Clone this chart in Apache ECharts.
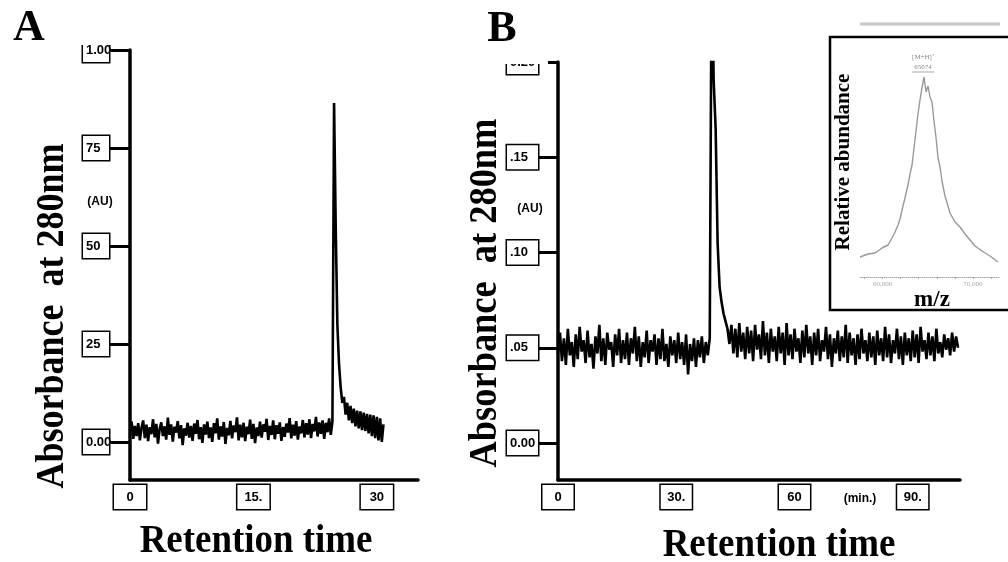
<!DOCTYPE html>
<html>
<head>
<meta charset="utf-8">
<script src="https://cdn.jsdelivr.net/npm/echarts@6.0.0/dist/echarts.min.js"></script>
<style>
  html, body { margin: 0; padding: 0; background: #fff; }
  #chart { width: 1008px; height: 562px; }
</style>
</head>
<body>
<div id="chart"></div>
<script>
// panel A: absorbance every 0.2 min from 0 to 30.8 min
const stepA = 0.2;
const absA = [
  0.030, 0.052, 0.008, 0.041, 0.015, 0.048, 0.004, 0.036, 0.055, 0.010,
  0.044, 0.002, 0.038, 0.020, 0.058, 0.012, 0.046, -0.004, 0.033, 0.050,
  0.015, 0.040, 0.006, 0.062, 0.018, 0.045, 0.001, 0.039, 0.024, 0.053,
  0.009, 0.043, -0.008, 0.035, 0.016, 0.049, 0.011, 0.041, 0.003, 0.047,
  0.021, 0.056, 0.007, 0.038, -0.002, 0.045, 0.019, 0.052, 0.010, 0.037,
  0.000, 0.048, 0.022, 0.060, 0.006, 0.040, 0.014, 0.051, -0.005, 0.036,
  0.017, 0.054, 0.009, 0.042, 0.025, 0.063, 0.004, 0.044, 0.012, 0.049,
  0.002, 0.039, 0.020, 0.057, 0.008, 0.046, -0.003, 0.037, 0.015, 0.052,
  0.011, 0.045, 0.026, 0.059, 0.005, 0.041, 0.018, 0.055, 0.007, 0.043,
  0.021, 0.050, 0.003, 0.038, 0.013, 0.047, 0.024, 0.061, 0.009, 0.044,
  0.016, 0.053, 0.006, 0.040, 0.022, 0.056, 0.012, 0.048, 0.019, 0.058,
  0.010, 0.046, 0.027, 0.064, 0.014, 0.050, 0.021, 0.055, 0.008, 0.049,
  0.025, 0.060, 0.018, 0.052,
  0.865, 0.550, 0.300, 0.200,
  0.140, 0.100, 0.115, 0.070, 0.100, 0.055, 0.092, 0.048, 0.085, 0.040,
  0.080, 0.035, 0.078, 0.030, 0.075, 0.028, 0.072, 0.022, 0.070, 0.015,
  0.068, 0.010, 0.064, 0.004, 0.060, 0.000, 0.045
];

// panel B: absorbance every 0.5 min from 0 to 101.5 min
const stepB = 0.5;
const absB = [
  0.047, 0.058, 0.043, 0.055, 0.041, 0.060, 0.046, 0.053, 0.040, 0.057,
  0.044, 0.061, 0.048, 0.054, 0.042, 0.059, 0.045, 0.052, 0.039, 0.056,
  0.047, 0.062, 0.043, 0.055, 0.041, 0.058, 0.049, 0.053, 0.040, 0.057,
  0.046, 0.060, 0.042, 0.054, 0.044, 0.058, 0.041, 0.055, 0.047, 0.061,
  0.043, 0.056, 0.040, 0.053, 0.045, 0.059, 0.042, 0.054, 0.048, 0.057,
  0.041, 0.055, 0.044, 0.060, 0.043, 0.052, 0.040, 0.056, 0.046, 0.054,
  0.042, 0.058, 0.044, 0.053, 0.041, 0.057, 0.036, 0.052, 0.043, 0.055,
  0.040, 0.054, 0.045, 0.056, 0.042, 0.053, 0.046, 0.055,
  0.260, 0.190, 0.165, 0.105, 0.082, 0.074, 0.068, 0.064, 0.060,
  0.052, 0.062, 0.047, 0.060, 0.045, 0.063, 0.048, 0.058, 0.044, 0.061,
  0.047, 0.059, 0.043, 0.062, 0.049, 0.057, 0.044, 0.064, 0.046, 0.058,
  0.042, 0.060, 0.048, 0.056, 0.043, 0.061, 0.047, 0.058, 0.041, 0.063,
  0.046, 0.057, 0.044, 0.060, 0.048, 0.055, 0.042, 0.059, 0.045, 0.062,
  0.047, 0.056, 0.041, 0.058, 0.046, 0.060, 0.043, 0.054, 0.048, 0.061,
  0.044, 0.057, 0.040, 0.055, 0.047, 0.059, 0.043, 0.056, 0.045, 0.062,
  0.042, 0.058, 0.046, 0.055, 0.041, 0.057, 0.044, 0.060, 0.047, 0.054,
  0.043, 0.058, 0.045, 0.056, 0.041, 0.059, 0.046, 0.055, 0.043, 0.061,
  0.045, 0.057, 0.042, 0.054, 0.047, 0.060, 0.044, 0.056, 0.041, 0.058,
  0.046, 0.055, 0.043, 0.059, 0.045, 0.057, 0.042, 0.061, 0.048, 0.054,
  0.044, 0.058, 0.046, 0.056, 0.043, 0.060, 0.047, 0.053, 0.045, 0.057,
  0.049, 0.055, 0.046, 0.058, 0.048, 0.056, 0.050
];

// inset mass spectrum
const mzInset = [
  57500, 58390, 59160, 59940, 60600, 61040, 61380, 61710, 61930, 62260,
  62480, 62810, 63040, 63260, 63480, 63700, 63920, 64140, 64360, 64590,
  64810, 65030, 65250, 65470, 65690, 65910, 66140, 66360, 66580, 66910,
  67240, 67460, 68020, 68570, 69130, 69680, 70230, 71010, 71890, 72780
];
const abundInset = [
  10, 11.5, 12, 14.5, 16, 19.5, 22.5, 26, 29, 35.5,
  39.5, 46, 51.5, 56, 64.5, 73, 81.5, 88.5, 94.5, 100,
  92.5, 95.5, 90, 87.5, 78, 70, 59.5, 55, 48, 40.5,
  35.5, 32, 27.5, 25, 21.5, 18.5, 15.5, 13, 10.5, 7.5
];

const tickValsA = [0, 0.25, 0.5, 0.75, 1];
const tickTextA = ['0.00', '25', '50', '75', '1.00'];
const tickValsB = [0, 0.05, 0.1, 0.15, 0.2];
const tickTextB = ['0.00', '.05', '.10', '.15', '0.20'];
const timeValsA = [0, 15, 30];
const timeTextA = ['0', '15.', '30'];
const timeValsB = [0, 30, 60, 90];
const timeTextB = ['0', '30.', '60', '90.'];
const mzTicks = [58000, 60000, 62000, 64000, 66000, 68000, 70000, 72000];
const mzLabels = [60000, 70000];

const SERIF = "'Liberation Serif', 'Times New Roman', serif";
const SANS = "'Liberation Sans', Arial, sans-serif";

function pick(vals, texts) {
  return function (v) {
    for (let i = 0; i < vals.length; i++) {
      if (Math.abs(vals[i] - v) < 1e-9) return texts[i];
    }
    return '';
  };
}

function boxLabel(vals, texts, extra) {
  return Object.assign({
    customValues: vals,
    formatter: pick(vals, texts),
    color: '#000',
    fontFamily: SANS,
    fontWeight: 'bold',
    fontSize: 13,
    lineHeight: 14,
    backgroundColor: '#fff',
    borderColor: '#000',
    borderWidth: 1.5
  }, extra);
}

function txt(x, y, text, font, opts) {
  return Object.assign({
    type: 'text', z: 100, x: x, y: y,
    style: { text: text, font: font, fill: '#000', align: 'center', verticalAlign: 'middle' }
  }, opts || {});
}

const chart = echarts.init(document.getElementById('chart'), null, { renderer: 'canvas' });

const axisLine = { show: true, onZero: false, lineStyle: { color: '#000', width: 3.5 } };

const option = {
  animation: false,
  backgroundColor: '#fff',
  grid: [
    { left: 130, top: 50, width: 288, height: 430 },
    { left: 558, top: 62, width: 402, height: 418 },
    { left: 860, top: 77, width: 140, height: 200 }
  ],
  xAxis: [
    {
      gridIndex: 0, type: 'value', min: 0, max: 35,
      axisLine: axisLine, axisTick: { show: false }, splitLine: { show: false },
      axisLabel: boxLabel(timeValsA, timeTextA, { margin: 5, width: 26, padding: [5, 3, 5, 3], align: 'center' })
    },
    {
      gridIndex: 1, type: 'value', min: 0, max: 102,
      axisLine: axisLine, axisTick: { show: false }, splitLine: { show: false },
      axisLabel: boxLabel(timeValsB, timeTextB, { margin: 5, width: 25, padding: [5, 3, 5, 3], align: 'center' })
    },
    {
      gridIndex: 2, type: 'value', min: 57500, max: 73000,
      axisLine: { show: true, onZero: false, lineStyle: { color: '#aaa', width: 1, type: 'dotted' } },
      axisTick: { show: true, customValues: mzTicks, length: 2, lineStyle: { color: '#aaa' } },
      splitLine: { show: false },
      axisLabel: { customValues: mzLabels, margin: 4, fontSize: 7, color: '#aaa', fontFamily: SERIF }
    }
  ],
  yAxis: [
    {
      gridIndex: 0, type: 'value', min: -0.097, max: 1,
      axisLine: axisLine, splitLine: { show: false },
      axisTick: { show: true, customValues: tickValsA, length: 21, lineStyle: { color: '#000', width: 3 } },
      axisLabel: boxLabel(tickValsA, tickTextA, { margin: 47, width: 21, padding: [5, 2, 5, 3], align: 'left' })
    },
    {
      gridIndex: 1, type: 'value', min: -0.0194, max: 0.2,
      axisLine: axisLine, splitLine: { show: false },
      axisTick: { show: true, customValues: tickValsB, length: 20, lineStyle: { color: '#000', width: 3 } },
      axisLabel: boxLabel(tickValsB, tickTextB, { margin: 51, width: 26, padding: [5, 2, 5, 3], align: 'left' })
    },
    { gridIndex: 2, type: 'value', min: 0, max: 100, show: false }
  ],
  series: [
    {
      type: 'line', xAxisIndex: 0, yAxisIndex: 0, showSymbol: false,
      lineStyle: { color: '#000', width: 2.6 },
      data: absA.map(function (v, i) { return [i * stepA, v]; })
    },
    {
      type: 'line', xAxisIndex: 1, yAxisIndex: 1, showSymbol: false,
      lineStyle: { color: '#000', width: 2.6 },
      data: absB.map(function (v, i) { return [i * stepB, v]; })
    },
    {
      type: 'line', xAxisIndex: 2, yAxisIndex: 2, showSymbol: false,
      lineStyle: { color: '#999', width: 1.4 },
      data: mzInset.map(function (m, i) { return [m, abundInset[i]]; })
    }
  ],
  graphic: [
    // hides the tops of the clipped "1.00" and "0.20" boxes, as in the scan
    { type: 'rect', z: 50, shape: { x: 78, y: 34, width: 36, height: 11 }, style: { fill: '#fff' } },
    { type: 'rect', z: 50, shape: { x: 500, y: 46, width: 48, height: 18 }, style: { fill: '#fff' } },
    // inset frame
    { type: 'rect', z: 1, shape: { x: 830, y: 37, width: 190, height: 273 }, style: { fill: 'none', stroke: '#000', lineWidth: 2.5 } },
    { type: 'line', z: 1, shape: { x1: 860, y1: 24, x2: 1000, y2: 24 }, style: { stroke: '#c8c8c8', lineWidth: 3 } },
    txt(29, 29, 'A', 'bold 44px ' + SERIF),
    txt(502, 30, 'B', 'bold 44px ' + SERIF),
    txt(53, 316, 'Absorbance  at 280nm', 'bold 40px ' + SERIF, { rotation: Math.PI / 2, scaleX: 0.9 }),
    txt(486, 293, 'Absorbance  at 280nm', 'bold 40px ' + SERIF, { rotation: Math.PI / 2, scaleX: 0.91 }),
    txt(256, 541, 'Retention time', 'bold 41px ' + SERIF, { scaleX: 0.9 }),
    txt(779, 545, 'Retention time', 'bold 41px ' + SERIF, { scaleX: 0.9 }),
    txt(100, 202, '(AU)', 'bold 12px ' + SANS),
    txt(530, 209, '(AU)', 'bold 12px ' + SANS),
    txt(860, 499, '(min.)', 'bold 12px ' + SANS),
    txt(844, 162, 'Relative abundance', 'bold 21px ' + SERIF, { rotation: Math.PI / 2 }),
    txt(932, 300, 'm/z', 'bold 23px ' + SERIF),
    { type: 'text', z: 100, x: 923, y: 57, style: { text: '[M+H]\u207A', font: '7px ' + SERIF, fill: '#888', align: 'center', verticalAlign: 'middle' } },
    { type: 'text', z: 100, x: 923, y: 67, style: { text: '65074', font: '7px ' + SERIF, fill: '#888', align: 'center', verticalAlign: 'middle' } },
    { type: 'line', z: 100, shape: { x1: 912, y1: 72, x2: 934, y2: 72 }, style: { stroke: '#aaa', lineWidth: 1 } }
  ]
};

chart.setOption(option);
</script>
</body>
</html>
